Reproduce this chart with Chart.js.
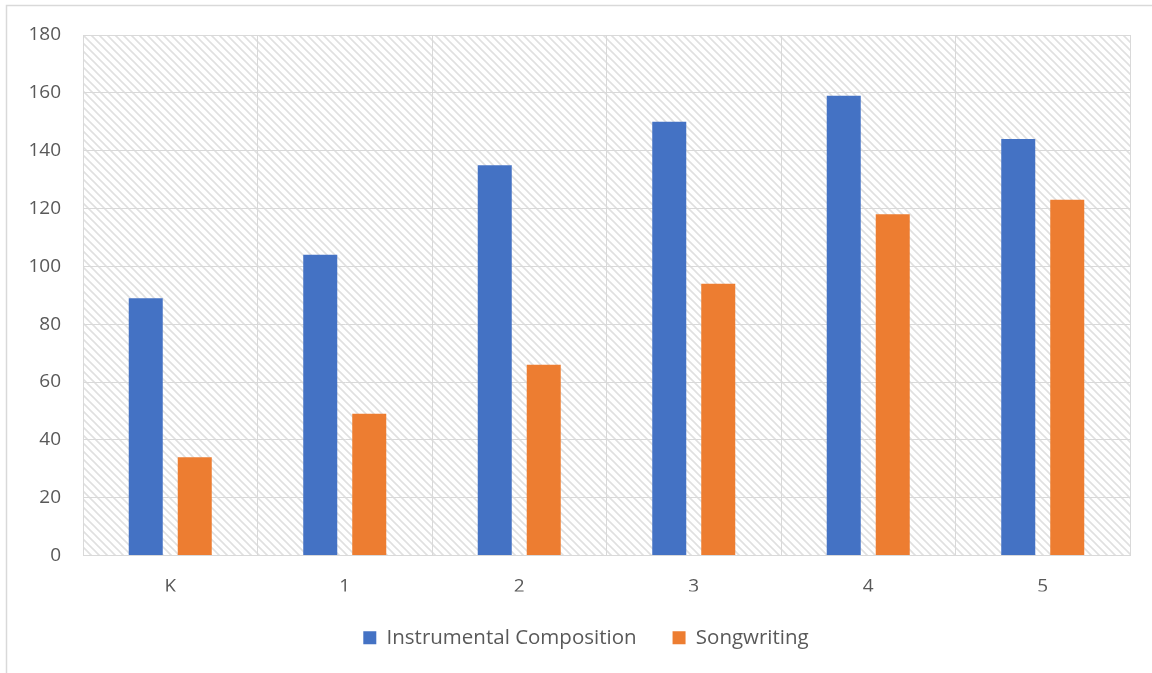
<!DOCTYPE html>
<html>
<head>
<meta charset="utf-8">
<script src="https://cdn.jsdelivr.net/npm/chart.js@4.4.0/dist/chart.umd.min.js"></script>
<style>
  html, body { margin: 0; padding: 0; background: #ffffff; }
  #wrap { width: 1152px; height: 673px; position: relative; }
</style>
</head>
<body>
<div id="wrap"><canvas id="chart" width="1152" height="673"></canvas></div>
<script>
// Grade levels and composition counts
const grades = ['K', '1', '2', '3', '4', '5'];
const instrumental = [89, 104, 135, 150, 159, 144];
const songwriting = [34, 49, 66, 94, 118, 123];
const yTicks = [0, 20, 40, 60, 80, 100, 120, 140, 160, 180];

const textColor = '#595959';
const gridColor = '#d9d9d9';
const fontFamily = "'Open Sans', 'Noto Sans', sans-serif";

// Diagonal hatch tile for the plot background
function makeHatch() {
  const c = document.createElement('canvas');
  c.width = 8; c.height = 8;
  const g = c.getContext('2d');
  g.strokeStyle = '#e0e0e0';
  g.lineWidth = 1.6;
  g.beginPath();
  g.moveTo(-2, -2); g.lineTo(10, 10);
  g.moveTo(-10, -2); g.lineTo(2, 10);
  g.moveTo(6, -2); g.lineTo(18, 10);
  g.stroke();
  return g.createPattern(c, 'repeat');
}

const hatchBackground = {
  id: 'hatchBackground',
  beforeDraw(chart) {
    const { ctx, chartArea: a } = chart;
    ctx.save();
    ctx.fillStyle = makeHatch();
    ctx.fillRect(a.left, a.top, a.right - a.left, a.bottom - a.top);
    ctx.restore();
  }
};

// Outer chart frame (left and top edges)
const frame = {
  id: 'frame',
  afterDraw(chart) {
    const ctx = chart.ctx;
    ctx.save();
    ctx.strokeStyle = gridColor;
    ctx.lineWidth = 1.5;
    ctx.beginPath();
    ctx.moveTo(6.5, chart.height);
    ctx.lineTo(6.5, 5.5);
    ctx.lineTo(chart.width, 5.5);
    ctx.stroke();
    ctx.restore();
  }
};

// Center the legend under the frame rather than the layout box
const legendShift = {
  id: 'legendShift',
  beforeDraw(chart) {
    const lg = chart.legend;
    if (lg && !lg._shifted) {
      lg.left += 21; lg.right += 21;
      lg._shifted = true;
    }
  }
};

new Chart(document.getElementById('chart'), {
  type: 'bar',
  data: {
    labels: grades,
    datasets: [
      { label: 'Instrumental Composition', data: instrumental, backgroundColor: '#4472c4',
        categoryPercentage: 0.5616, barPercentage: 0.694 },
      { label: 'Songwriting', data: songwriting, backgroundColor: '#ed7d31',
        categoryPercentage: 0.5616, barPercentage: 0.694 }
    ]
  },
  options: {
    responsive: false,
    animation: false,
    layout: { padding: { top: 35, right: 22, left: 0, bottom: 15 } },
    plugins: {
      tooltip: { enabled: false },
      legend: {
        position: 'bottom',
        labels: {
          color: textColor,
          font: { family: fontFamily, size: 20.5 },
          boxWidth: 13, boxHeight: 13,
          padding: 36
        }
      }
    },
    scales: {
      x: {
        grid: { color: gridColor, lineWidth: 1, drawTicks: false, offset: true },
        border: { color: gridColor },
        ticks: { color: textColor, font: { family: fontFamily, size: 19 }, padding: 20 },
        afterFit(s) { s.height = 36; }
      },
      y: {
        min: 0, max: 180,
        afterBuildTicks(s) { s.ticks = yTicks.map(v => ({ value: v })); },
        grid: { color: gridColor, lineWidth: 1, drawTicks: false },
        border: { color: gridColor },
        ticks: { color: textColor, font: { family: fontFamily, size: 19 }, padding: 22 },
        afterFit(s) { s.width = 83; }
      }
    }
  },
  plugins: [hatchBackground, frame, legendShift]
});
</script>
</body>
</html>
